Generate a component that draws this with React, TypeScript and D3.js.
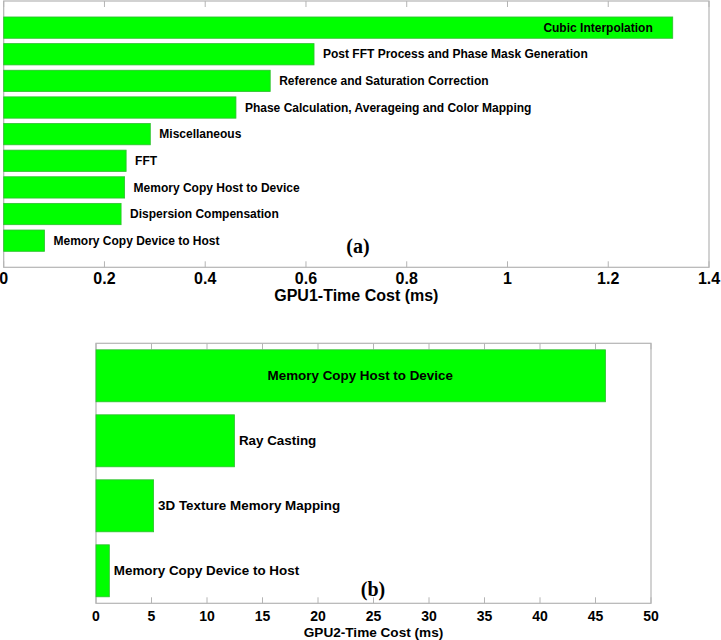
import React from "react";
import * as d3 from "d3";

// ---- Data ----
const gpu1Tasks = [
  "Cubic Interpolation",
  "Post FFT Process and Phase Mask Generation",
  "Reference and Saturation Correction",
  "Phase Calculation, Averageing and Color Mapping",
  "Miscellaneous",
  "FFT",
  "Memory Copy Host to Device",
  "Dispersion Compensation",
  "Memory Copy Device to Host",
];
const gpu1Times = [1.328, 0.616, 0.529, 0.461, 0.291, 0.243, 0.24, 0.233, 0.081];
const gpu1Ticks = [0, 0.2, 0.4, 0.6, 0.8, 1.0, 1.2, 1.4];

const gpu2Tasks = [
  "Memory Copy Host to Device",
  "Ray Casting",
  "3D Texture Memory Mapping",
  "Memory Copy Device to Host",
];
const gpu2Times = [45.9, 12.47, 5.19, 1.2];
const gpu2Ticks = [0, 5, 10, 15, 20, 25, 30, 35, 40, 45, 50];

const FONT = "'Liberation Sans', Arial, Helvetica, sans-serif";
const BAR_FILL = "#00ff00";
const BAR_STROKE = "#2fbf2f";
const FRAME = "#b4b4b4";

export default function App() {
  // ---- Panel (a) ----
  const a = { left: 3.7, right: 709, top: 1, bottom: 267.3 };
  const xA = d3.scaleLinear().domain([0, 1.4]).range([a.left, a.right]);
  const yA = d3
    .scaleBand<string>()
    .domain(gpu1Tasks)
    .range([a.top, a.bottom])
    .paddingInner(0.2)
    .paddingOuter(0.6);

  // ---- Panel (b) ----
  const b = { left: 96, right: 651, top: 343.3, bottom: 603.3 };
  const xB = d3.scaleLinear().domain([0, 50]).range([b.left, b.right]);
  const yB = d3
    .scaleBand<string>()
    .domain(gpu2Tasks)
    .range([b.top, b.bottom])
    .paddingInner(0.2)
    .paddingOuter(0.1);

  const tickLen = 6;

  return (
    <svg
      width={721}
      height={640}
      style={{ position: "absolute", left: 0, top: 0, background: "#fff" }}
      fontFamily={FONT}
    >
      <rect x={0} y={0} width={721} height={640} fill="#fff" />

      {/* Panel (a) frame */}
      <rect
        x={a.left}
        y={a.top}
        width={a.right - a.left}
        height={a.bottom - a.top}
        fill="none"
        stroke={FRAME}
        strokeWidth={1.2}
      />
      {gpu1Ticks.map((t) => (
        <g key={"ta" + t}>
          <line x1={xA(t)} x2={xA(t)} y1={a.bottom} y2={a.bottom - tickLen} stroke={FRAME} />
          <line x1={xA(t)} x2={xA(t)} y1={a.top} y2={a.top + tickLen} stroke={FRAME} />
          <text
            x={xA(t)}
            y={a.bottom + 17}
            textAnchor="middle"
            fontSize={16}
            fontWeight="bold"
            fill="#000"
          >
            {d3.format("~g")(t)}
          </text>
        </g>
      ))}
      {gpu1Tasks.map((task, i) => {
        const y0 = yA(task)!;
        const h = yA.bandwidth();
        const x1 = xA(gpu1Times[i]);
        const inside = i === 0;
        return (
          <g key={"ba" + i}>
            <rect
              x={xA(0)}
              y={y0}
              width={x1 - xA(0)}
              height={h}
              fill={BAR_FILL}
              stroke={BAR_STROKE}
              strokeWidth={0.8}
            />
            <text
              x={inside ? x1 - 20 : x1 + 9}
              y={y0 + h / 2}
              dy="0.35em"
              textAnchor={inside ? "end" : "start"}
              fontSize={12}
              fontWeight="bold"
              fill="#000"
            >
              {task}
            </text>
          </g>
        );
      })}
      <text
        x={(a.left + a.right) / 2}
        y={a.bottom + 34}
        textAnchor="middle"
        fontSize={16}
        fontWeight="bold"
      >
        GPU1-Time Cost (ms)
      </text>
      <text
        x={358}
        y={253}
        textAnchor="middle"
        fontSize={20}
        fontWeight="bold"
        fontFamily="'Liberation Serif', 'Times New Roman', serif"
      >
        (a)
      </text>

      {/* Panel (b) frame */}
      <rect
        x={b.left}
        y={b.top}
        width={b.right - b.left}
        height={b.bottom - b.top}
        fill="none"
        stroke={FRAME}
        strokeWidth={1.2}
      />
      {gpu2Ticks.map((t) => (
        <g key={"tb" + t}>
          <line x1={xB(t)} x2={xB(t)} y1={b.bottom} y2={b.bottom - tickLen} stroke={FRAME} />
          <line x1={xB(t)} x2={xB(t)} y1={b.top} y2={b.top + tickLen} stroke={FRAME} />
          <text
            x={xB(t)}
            y={b.bottom + 18}
            textAnchor="middle"
            fontSize={14}
            fontWeight="bold"
          >
            {t}
          </text>
        </g>
      ))}
      {gpu2Tasks.map((task, i) => {
        const y0 = yB(task)!;
        const h = yB.bandwidth();
        const x1 = xB(gpu2Times[i]);
        const inside = i === 0;
        return (
          <g key={"bb" + i}>
            <rect
              x={xB(0)}
              y={y0}
              width={x1 - xB(0)}
              height={h}
              fill={BAR_FILL}
              stroke={BAR_STROKE}
              strokeWidth={0.8}
            />
            <text
              x={inside ? (xB(0) + x1) / 2 + 9.5 : x1 + 4.5}
              y={y0 + h / 2}
              dy="0.35em"
              textAnchor={inside ? "middle" : "start"}
              fontSize={13.4}
              fontWeight="bold"
            >
              {task}
            </text>
          </g>
        );
      })}
      <text
        x={(b.left + b.right) / 2}
        y={b.bottom + 34}
        textAnchor="middle"
        fontSize={13.6}
        fontWeight="bold"
      >
        GPU2-Time Cost (ms)
      </text>
      <text
        x={373}
        y={596}
        textAnchor="middle"
        fontSize={20}
        fontWeight="bold"
        fontFamily="'Liberation Serif', 'Times New Roman', serif"
      >
        (b)
      </text>
    </svg>
  );
}
